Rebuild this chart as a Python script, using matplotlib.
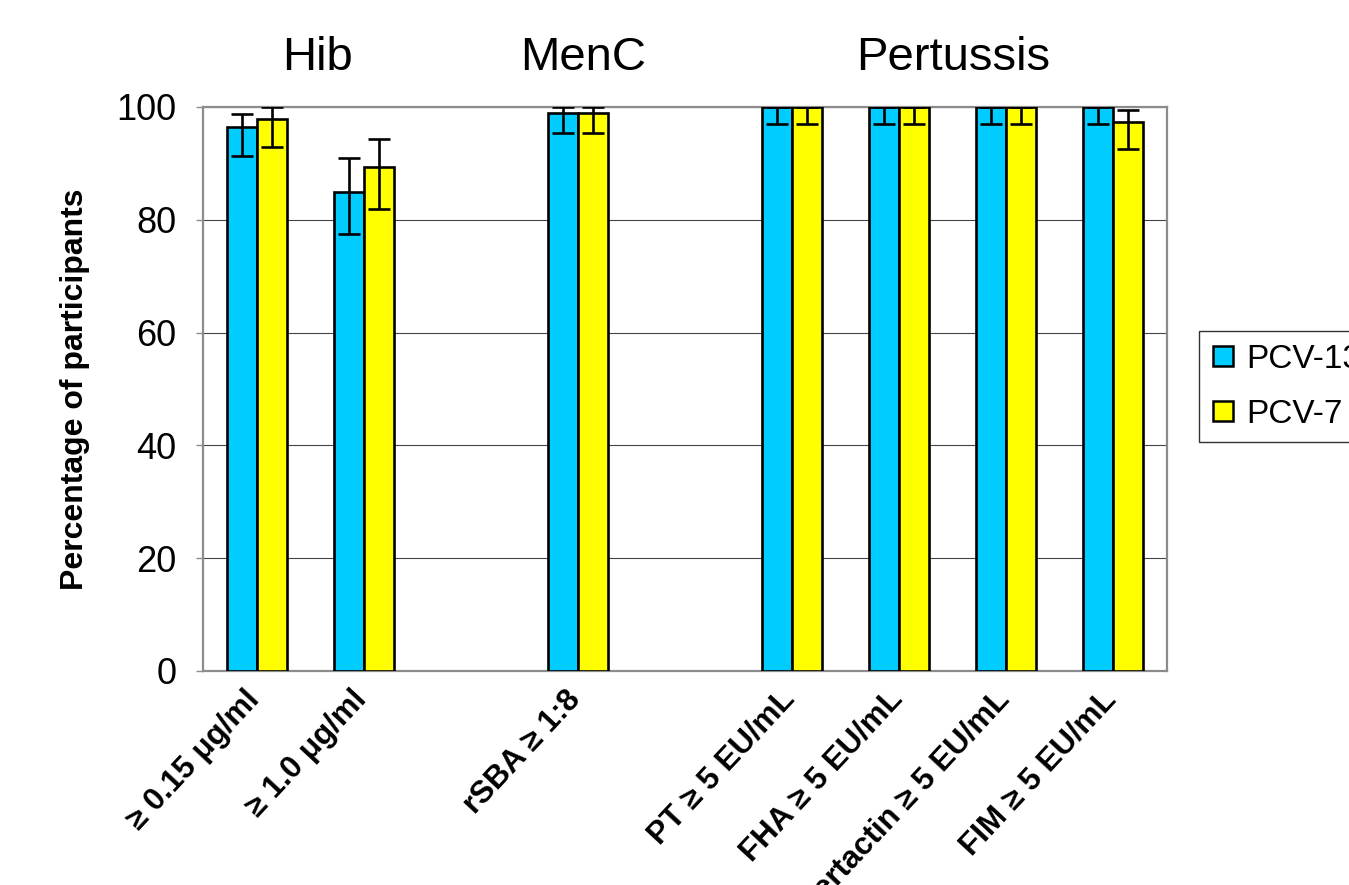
import matplotlib
matplotlib.use("Agg")
import matplotlib.pyplot as plt
import matplotlib.transforms as mtransforms
from matplotlib.lines import Line2D
import numpy as np

plt.rcParams['font.family'] = ['Liberation Sans', 'DejaVu Sans']

categories = ["≥ 0.15 μg/ml", "≥ 1.0 μg/ml", "", "rSBA ≥ 1:8", "",
              "PT ≥ 5 EU/mL", "FHA ≥ 5 EU/mL", "Pertactin ≥ 5 EU/mL", "FIM ≥ 5 EU/mL"]
pcv13 = [96.4, 85.0, np.nan, 98.9, np.nan, 100, 100, 100, 100]
pcv13_lo = [91.4, 77.5, np.nan, 95.4, np.nan, 97.0, 97.0, 97.0, 97.0]
pcv13_hi = [98.8, 90.9, np.nan, 100, np.nan, 100, 100, 100, 100]
pcv7 = [97.8, 89.4, np.nan, 98.9, np.nan, 100, 100, 100, 97.4]
pcv7_lo = [92.9, 82.0, np.nan, 95.4, np.nan, 97.0, 97.0, 97.0, 92.5]
pcv7_hi = [100, 94.4, np.nan, 100, np.nan, 100, 100, 100, 99.5]
series_names = ["PCV-13", "PCV-7"]
group_titles = ["Hib", "MenC", "Pertussis"]
group_title_x = [0.57, 3.05, 6.5]
yticks = [0, 20, 40, 60, 80, 100]

W, H = 1349, 885
fig = plt.figure(figsize=(W / 100, H / 100), dpi=100)
ax = fig.add_axes([203 / W, 1 - 671 / H, (1167 - 203) / W, (671 - 107) / H])

x = np.arange(len(categories))
bw = 0.28
c13, c7 = "#00CCFF", "#FFFF00"

def draw(offset, vals, lo, hi, color):
    vals = np.array(vals, dtype=float)
    lo = np.array(lo, dtype=float)
    hi = np.array(hi, dtype=float)
    ax.bar(x + offset, vals, width=bw, color=color, edgecolor="black",
           linewidth=1.9, zorder=3)
    yerr = np.vstack([vals - lo, hi - vals])
    ax.errorbar(x + offset, vals, yerr=yerr, fmt="none", ecolor="black",
                elinewidth=1.9, capsize=8, capthick=1.9, zorder=4)

draw(-bw / 2, pcv13, pcv13_lo, pcv13_hi, c13)
draw(bw / 2, pcv7, pcv7_lo, pcv7_hi, c7)

ax.set_xlim(-0.5, len(categories) - 0.5)
ax.set_ylim(0, 100)
ax.set_yticks(yticks)
ax.set_yticklabels([str(t) for t in yticks], fontsize=26)
ax.yaxis.grid(True, color="#444444", linewidth=0.8, zorder=0)
ax.set_axisbelow(True)
for s in ax.spines.values():
    s.set_color("#8c8c8c")
    s.set_linewidth(1.6)
ax.tick_params(axis="y", length=5, width=1, color="#8c8c8c", pad=14)
ax.tick_params(axis="x", length=0, pad=17)

ax.set_xticks(x)
ax.set_xticklabels(categories, rotation=47, ha="right", rotation_mode="anchor",
                   fontsize=22.5, fontweight="bold", va="center")
shift = mtransforms.ScaledTranslation(-2 / 100, 0, fig.dpi_scale_trans)
for lab in ax.get_xticklabels():
    lab.set_transform(lab.get_transform() + shift)

ax.set_ylabel("Percentage of participants", fontsize=23, fontweight="bold", labelpad=19)

blend = mtransforms.blended_transform_factory(ax.transData, fig.transFigure)
for t, gx in zip(group_titles, group_title_x):
    ax.text(gx, 1 - 58 / H, t, transform=blend, ha="center", va="center", fontsize=34)

handles = [Line2D([0], [0], marker="s", linestyle="none", markersize=15,
                  markerfacecolor=c, markeredgecolor="black", markeredgewidth=1.8)
           for c in (c13, c7)]
leg = fig.legend(handles, series_names, loc="upper left",
                 bbox_to_anchor=(1199 / W, 1 - 331 / H), fontsize=24,
                 frameon=True, fancybox=False, edgecolor="black", borderaxespad=0,
                 handlelength=0.7, handletextpad=0.35, labelspacing=0.72,
                 borderpad=0.38)
leg.get_frame().set_linewidth(1.0)

fig.savefig("out.png", dpi=100)
